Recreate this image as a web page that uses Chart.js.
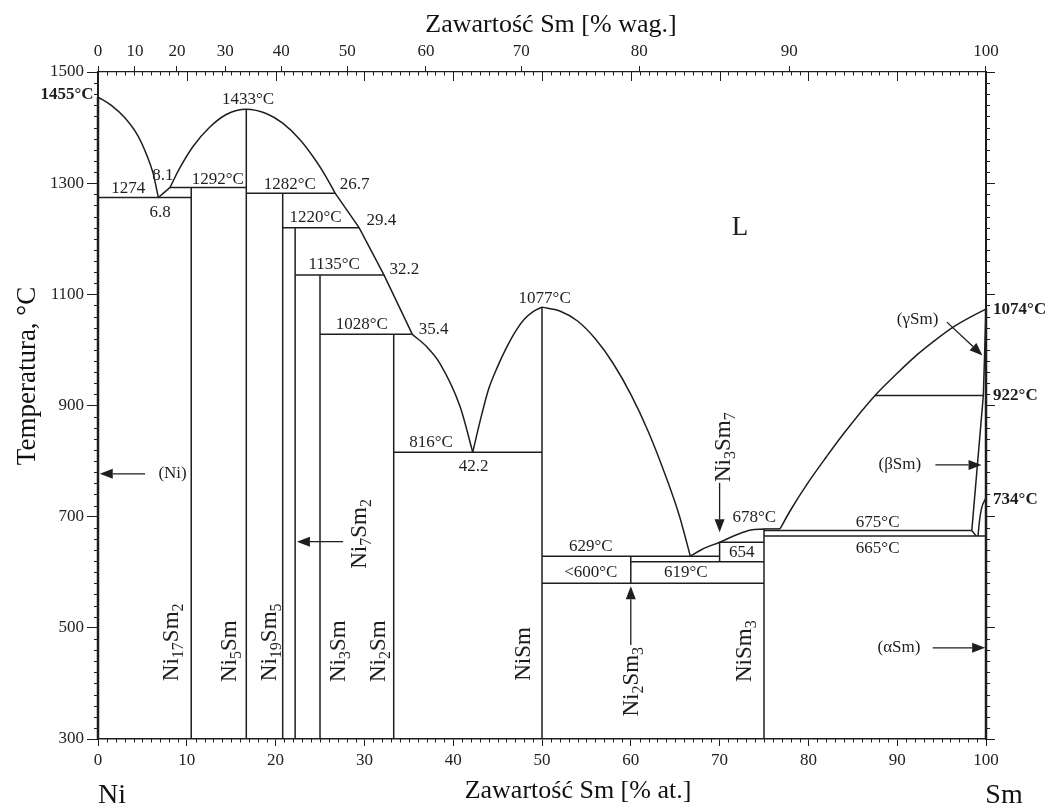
<!DOCTYPE html>
<html>
<head>
<meta charset="utf-8">
<title>Układ Ni-Sm</title>
<script src="https://cdn.jsdelivr.net/npm/chart.js@4.4.1/dist/chart.umd.min.js"></script>
<style>
  html, body { margin: 0; padding: 0; background: #fff; }
  #wrap { width: 1055px; height: 809px; position: relative; }
</style>
</head>
<body>
<div id="wrap"><canvas id="chart"></canvas></div>
<script>
// osie: % at. Sm (dół), % wag. Sm (góra), temperatura
const atTicks = [0, 10, 20, 30, 40, 50, 60, 70, 80, 90, 100];
const wtTicks = [0, 10, 20, 30, 40, 50, 60, 70, 80, 90, 100];
const tempTicks = [300, 500, 700, 900, 1100, 1300, 1500];

// linie likwidusu [% at. Sm, °C]
const liqNi = [[0, 1455], [1.5, 1440], [3, 1418], [4.5, 1385], [5.5, 1350], [6.2, 1318], [6.8, 1274]];
const liqNi17Sm2 = [[6.8, 1274], [7.5, 1284], [8.1, 1292]];
const liqNi5Sm = [[8.1, 1292], [9.2, 1327], [10.7, 1366], [12.6, 1401], [14.5, 1424], [16.7, 1433],
                  [19.0, 1425], [20.8, 1408], [22.7, 1379], [24.6, 1339], [25.7, 1311], [26.7, 1282]];
const liqSteps = [[26.7, 1282], [29.4, 1220], [32.2, 1135], [35.4, 1028]];
const liqNi2Sm = [[35.4, 1028], [37.0, 1006], [38.5, 976], [40.8, 897], [42.2, 816]];
const liqNiSmL = [[42.2, 816], [43, 870], [44, 930], [45, 970], [46, 1004], [47, 1033],
                  [48, 1055], [49, 1069], [50, 1077]];
const liqNiSmR = [[50, 1077], [52, 1070], [54, 1052], [56, 1020], [58, 976], [60, 920],
                  [62, 852], [64, 770], [65.5, 700], [66.7, 629]];
const liqNi3Sm7 = [[66.7, 629], [68, 641], [70, 654], [72, 668], [73.5, 676], [75, 678]];
const liqSm = [[76.8, 678], [78, 712], [80, 762], [82, 807], [84, 850], [87.5, 918],
               [90, 958], [92, 988], [94, 1014], [96.3, 1041], [100, 1074]];
const solvSm = [[100, 1074], [99.7, 918], [98.4, 675], [98.9, 665]];
const solvAlphaSm = [[99.1, 665], [99.25, 690], [99.5, 715], [100, 734]];

// izotermy [°C, od % at., do % at.]
const isotherms = [
  [1274, 0, 10.5], [1292, 8.1, 16.7], [1282, 16.7, 26.7], [1220, 20.8, 29.4],
  [1135, 22.2, 32.2], [1028, 25, 35.4], [816, 33.3, 50], [629, 50, 70],
  [619, 60, 75], [580, 50, 75], [654, 70, 75], [678, 75, 76.8],
  [675, 75, 98.4], [665, 75, 100], [918, 87.5, 99.7]
];

// fazy międzymetaliczne [% at., od °C, do °C]
const compounds = [
  [10.5, 300, 1292], [16.7, 300, 1433], [20.8, 300, 1282], [22.2, 300, 1220],
  [25, 300, 1135], [33.3, 300, 1028], [50, 300, 1077], [75, 300, 678],
  [60, 580, 629], [70, 619, 654]
];
const pureMetals = [[0, 300, 1455], [100, 300, 1074]];

const ink = '#1e1e1e';
const serif = '"Liberation Serif", "Times New Roman", serif';

// przeliczenie % wag. -> % at. (Ni 58.69, Sm 150.36)
function wtToAt(w) {
  const sm = w / 150.36, ni = (100 - w) / 58.69;
  return 100 * sm / (sm + ni);
}

const line = (pts, extra = {}) => ({
  data: pts.map(([x, y]) => ({ x, y })),
  showLine: true, pointRadius: 0, borderColor: ink, borderWidth: 1.5,
  fill: false, clip: false, tension: 0, ...extra
});
const curve = pts => line(pts, { cubicInterpolationMode: 'monotone' });

const datasets = [
  ...[liqNi, liqNi17Sm2, liqNi5Sm, liqNi2Sm, liqNiSmL, liqNiSmR, liqNi3Sm7, liqSm, solvAlphaSm].map(curve),
  line(liqSteps), line(solvSm),
  ...isotherms.map(([t, a, b]) => line([[a, t], [b, t]])),
  ...compounds.map(([x, a, b]) => line([[x, a], [x, b]])),
  ...pureMetals.map(([x, a, b]) => line([[x, a], [x, b]], { borderWidth: 2.5 }))
];

// opisy [tekst, % at., °C]
const notes = [
  ['1433°C', 16.9, 1450], ['1274', 3.4, 1291], ['8.1', 7.3, 1313], ['6.8', 7.0, 1248],
  ['1292°C', 13.5, 1306], ['1282°C', 21.6, 1298], ['26.7', 28.9, 1298],
  ['1220°C', 24.5, 1239], ['29.4', 31.9, 1232], ['1135°C', 26.6, 1153], ['32.2', 34.5, 1144],
  ['1028°C', 29.7, 1045], ['35.4', 37.8, 1036], ['816°C', 37.5, 834], ['42.2', 42.3, 791],
  ['1077°C', 50.3, 1093], ['629°C', 55.5, 647], ['<600°C', 55.5, 599], ['619°C', 66.2, 599],
  ['654', 72.5, 635], ['678°C', 73.9, 698], ['675°C', 87.8, 690], ['665°C', 87.8, 642],
  ['(γSm)', 92.3, 1054], ['(βSm)', 90.3, 793], ['(αSm)', 90.2, 464], ['(Ni)', 8.4, 777]
];
const boldNotes = [['1074°C', 100.8, 1072], ['922°C', 100.8, 918], ['734°C', 100.8, 730]];
const phaseNames = [
  ['Ni17Sm2', 8.1, 474], ['Ni5Sm', 14.6, 458], ['Ni19Sm5', 19.1, 474], ['Ni7Sm2', 29.3, 669],
  ['Ni3Sm', 26.9, 458], ['Ni2Sm', 31.4, 458], ['NiSm', 47.7, 453], ['Ni2Sm3', 59.9, 403],
  ['NiSm3', 72.6, 458], ['Ni3Sm7', 70.3, 825]
];
const arrows = [
  [5.3, 777, 0.2, 777], [27.6, 655, 22.4, 655], [70, 761, 70, 672], [60, 469, 60, 575],
  [95.6, 1050, 99.6, 990], [94.3, 793, 99.5, 793], [94.0, 464, 99.9, 464]
];

const decor = {
  id: 'decor',
  afterDatasetsDraw(chart) {
    const { ctx, chartArea: a, scales } = chart;
    const X = v => scales.x.getPixelForValue(v);
    const Y = v => scales.y.getPixelForValue(v);
    ctx.save();
    ctx.strokeStyle = ink;
    ctx.fillStyle = ink;
    ctx.lineWidth = 1;

    // drobne znaczniki osi
    ctx.beginPath();
    for (let i = 1; i < 100; i++) {
      const px = Math.round(X(i)) + 0.5;
      const major = i % 10 === 0;
      if (!major) { ctx.moveTo(px, a.bottom); ctx.lineTo(px, a.bottom + 3.5); }
      ctx.moveTo(px, a.top); ctx.lineTo(px, a.top + (major ? 9 : 3.5));
    }
    for (let t = 320; t < 1500; t += 20) {
      if ((t - 300) % 200 === 0) continue;
      const py = Math.round(Y(t)) + 0.5;
      ctx.moveTo(a.left - 4, py); ctx.lineTo(a.left, py);
      ctx.moveTo(a.right, py); ctx.lineTo(a.right + 4, py);
    }
    ctx.stroke();

    // strzałki
    ctx.lineWidth = 1.3;
    arrows.forEach(([x1, y1, x2, y2]) => {
      const p1 = [X(x1), Y(y1)], p2 = [X(x2), Y(y2)];
      const ang = Math.atan2(p2[1] - p1[1], p2[0] - p1[0]);
      const hl = 13, hw = 5;
      const bx = p2[0] - hl * Math.cos(ang), by = p2[1] - hl * Math.sin(ang);
      ctx.beginPath(); ctx.moveTo(p1[0], p1[1]); ctx.lineTo(bx, by); ctx.stroke();
      ctx.beginPath();
      ctx.moveTo(p2[0], p2[1]);
      ctx.lineTo(bx + hw * Math.sin(ang), by - hw * Math.cos(ang));
      ctx.lineTo(bx - hw * Math.sin(ang), by + hw * Math.cos(ang));
      ctx.closePath(); ctx.fill();
    });

    // opisy
    ctx.textBaseline = 'middle';
    ctx.textAlign = 'center';
    ctx.font = `17px ${serif}`;
    notes.forEach(([s, x, y]) => ctx.fillText(s, X(x), Y(y)));
    ctx.font = `bold 17px ${serif}`;
    ctx.textAlign = 'left';
    boldNotes.forEach(([s, x, y]) => ctx.fillText(s, X(x), Y(y)));
    ctx.textAlign = 'right';
    ctx.fillText('1455°C', X(-0.5), Y(1460));
    ctx.textAlign = 'center';
    ctx.font = `27px ${serif}`;
    ctx.fillText('L', X(72.3), Y(1219));

    // nazwy faz z indeksami dolnymi, obrócone
    const fs = 23, sub = 16;
    phaseNames.forEach(([f, x, y]) => {
      const parts = [...f.matchAll(/([A-Z][a-z]?)(\d*)/g)];
      let w = 0;
      parts.forEach(m => {
        ctx.font = `${fs}px ${serif}`; w += ctx.measureText(m[1]).width;
        ctx.font = `${sub}px ${serif}`; w += ctx.measureText(m[2]).width;
      });
      ctx.save();
      ctx.translate(X(x), Y(y));
      ctx.rotate(-Math.PI / 2);
      ctx.textAlign = 'left';
      ctx.textBaseline = 'alphabetic';
      let cx = -w / 2;
      parts.forEach(m => {
        ctx.font = `${fs}px ${serif}`;
        ctx.fillText(m[1], cx, 8); cx += ctx.measureText(m[1]).width;
        ctx.font = `${sub}px ${serif}`;
        ctx.fillText(m[2], cx, 13); cx += ctx.measureText(m[2]).width;
      });
      ctx.restore();
    });

    // tytuły osi
    ctx.fillStyle = '#111';
    ctx.textBaseline = 'middle';
    ctx.textAlign = 'center';
    ctx.font = `26px ${serif}`;
    ctx.fillText('Zawartość Sm [% wag.]', 551, 25);
    ctx.fillText('Zawartość Sm [% at.]', 578, 791);
    ctx.font = `28px ${serif}`;
    ctx.fillText('Ni', 112, 796);
    ctx.fillText('Sm', 1004, 796);
    ctx.save();
    ctx.translate(28, 376);
    ctx.rotate(-Math.PI / 2);
    ctx.font = `27px ${serif}`;
    ctx.fillText('Temperatura, °C', 0, 0);
    ctx.restore();
    ctx.restore();
  }
};

const tickFont = { family: serif, size: 17 };
new Chart(document.getElementById('chart'), {
  type: 'scatter',
  data: { datasets },
  plugins: [decor],
  options: {
    responsive: true,
    maintainAspectRatio: false,
    animation: false,
    layout: { padding: 0 },
    plugins: { legend: { display: false }, tooltip: { enabled: false } },
    scales: {
      x: {
        type: 'linear', position: 'bottom', min: 0, max: 100,
        afterBuildTicks: s => { s.ticks = atTicks.map(v => ({ value: v })); },
        afterFit: s => { s.height = 70; },
        ticks: { font: tickFont, color: '#222', padding: 4, autoSkip: false, maxRotation: 0,
                 callback: (v, i) => atTicks[i] },
        grid: { drawOnChartArea: false, tickLength: 7, color: ink },
        border: { color: ink, width: 1.5 }
      },
      x2: {
        type: 'linear', axis: 'x', position: 'top', min: 0, max: 100,
        afterBuildTicks: s => { s.ticks = wtTicks.map(w => ({ value: wtToAt(w) })); },
        afterFit: s => { s.height = 72; },
        ticks: { font: tickFont, color: '#222', padding: 4, autoSkip: false, maxRotation: 0,
                 callback: (v, i) => wtTicks[i] },
        grid: { drawOnChartArea: false, tickLength: 6, color: ink },
        border: { color: ink, width: 1.2 }
      },
      y: {
        type: 'linear', position: 'left', min: 300, max: 1500,
        afterBuildTicks: s => { s.ticks = tempTicks.map(v => ({ value: v })); },
        afterFit: s => { s.width = 98; },
        ticks: { font: tickFont, color: '#222', padding: 3, callback: (v, i) => String(tempTicks[i]) },
        grid: { drawOnChartArea: false, tickLength: 11, color: ink },
        border: { color: ink, width: 2 }
      },
      y2: {
        type: 'linear', axis: 'y', position: 'right', min: 300, max: 1500,
        afterBuildTicks: s => { s.ticks = tempTicks.map(v => ({ value: v })); },
        afterFit: s => { s.width = 69; },
        ticks: { display: false },
        grid: { drawOnChartArea: false, tickLength: 9, color: ink },
        border: { color: ink, width: 2 }
      }
    }
  }
});
</script>
</body>
</html>
